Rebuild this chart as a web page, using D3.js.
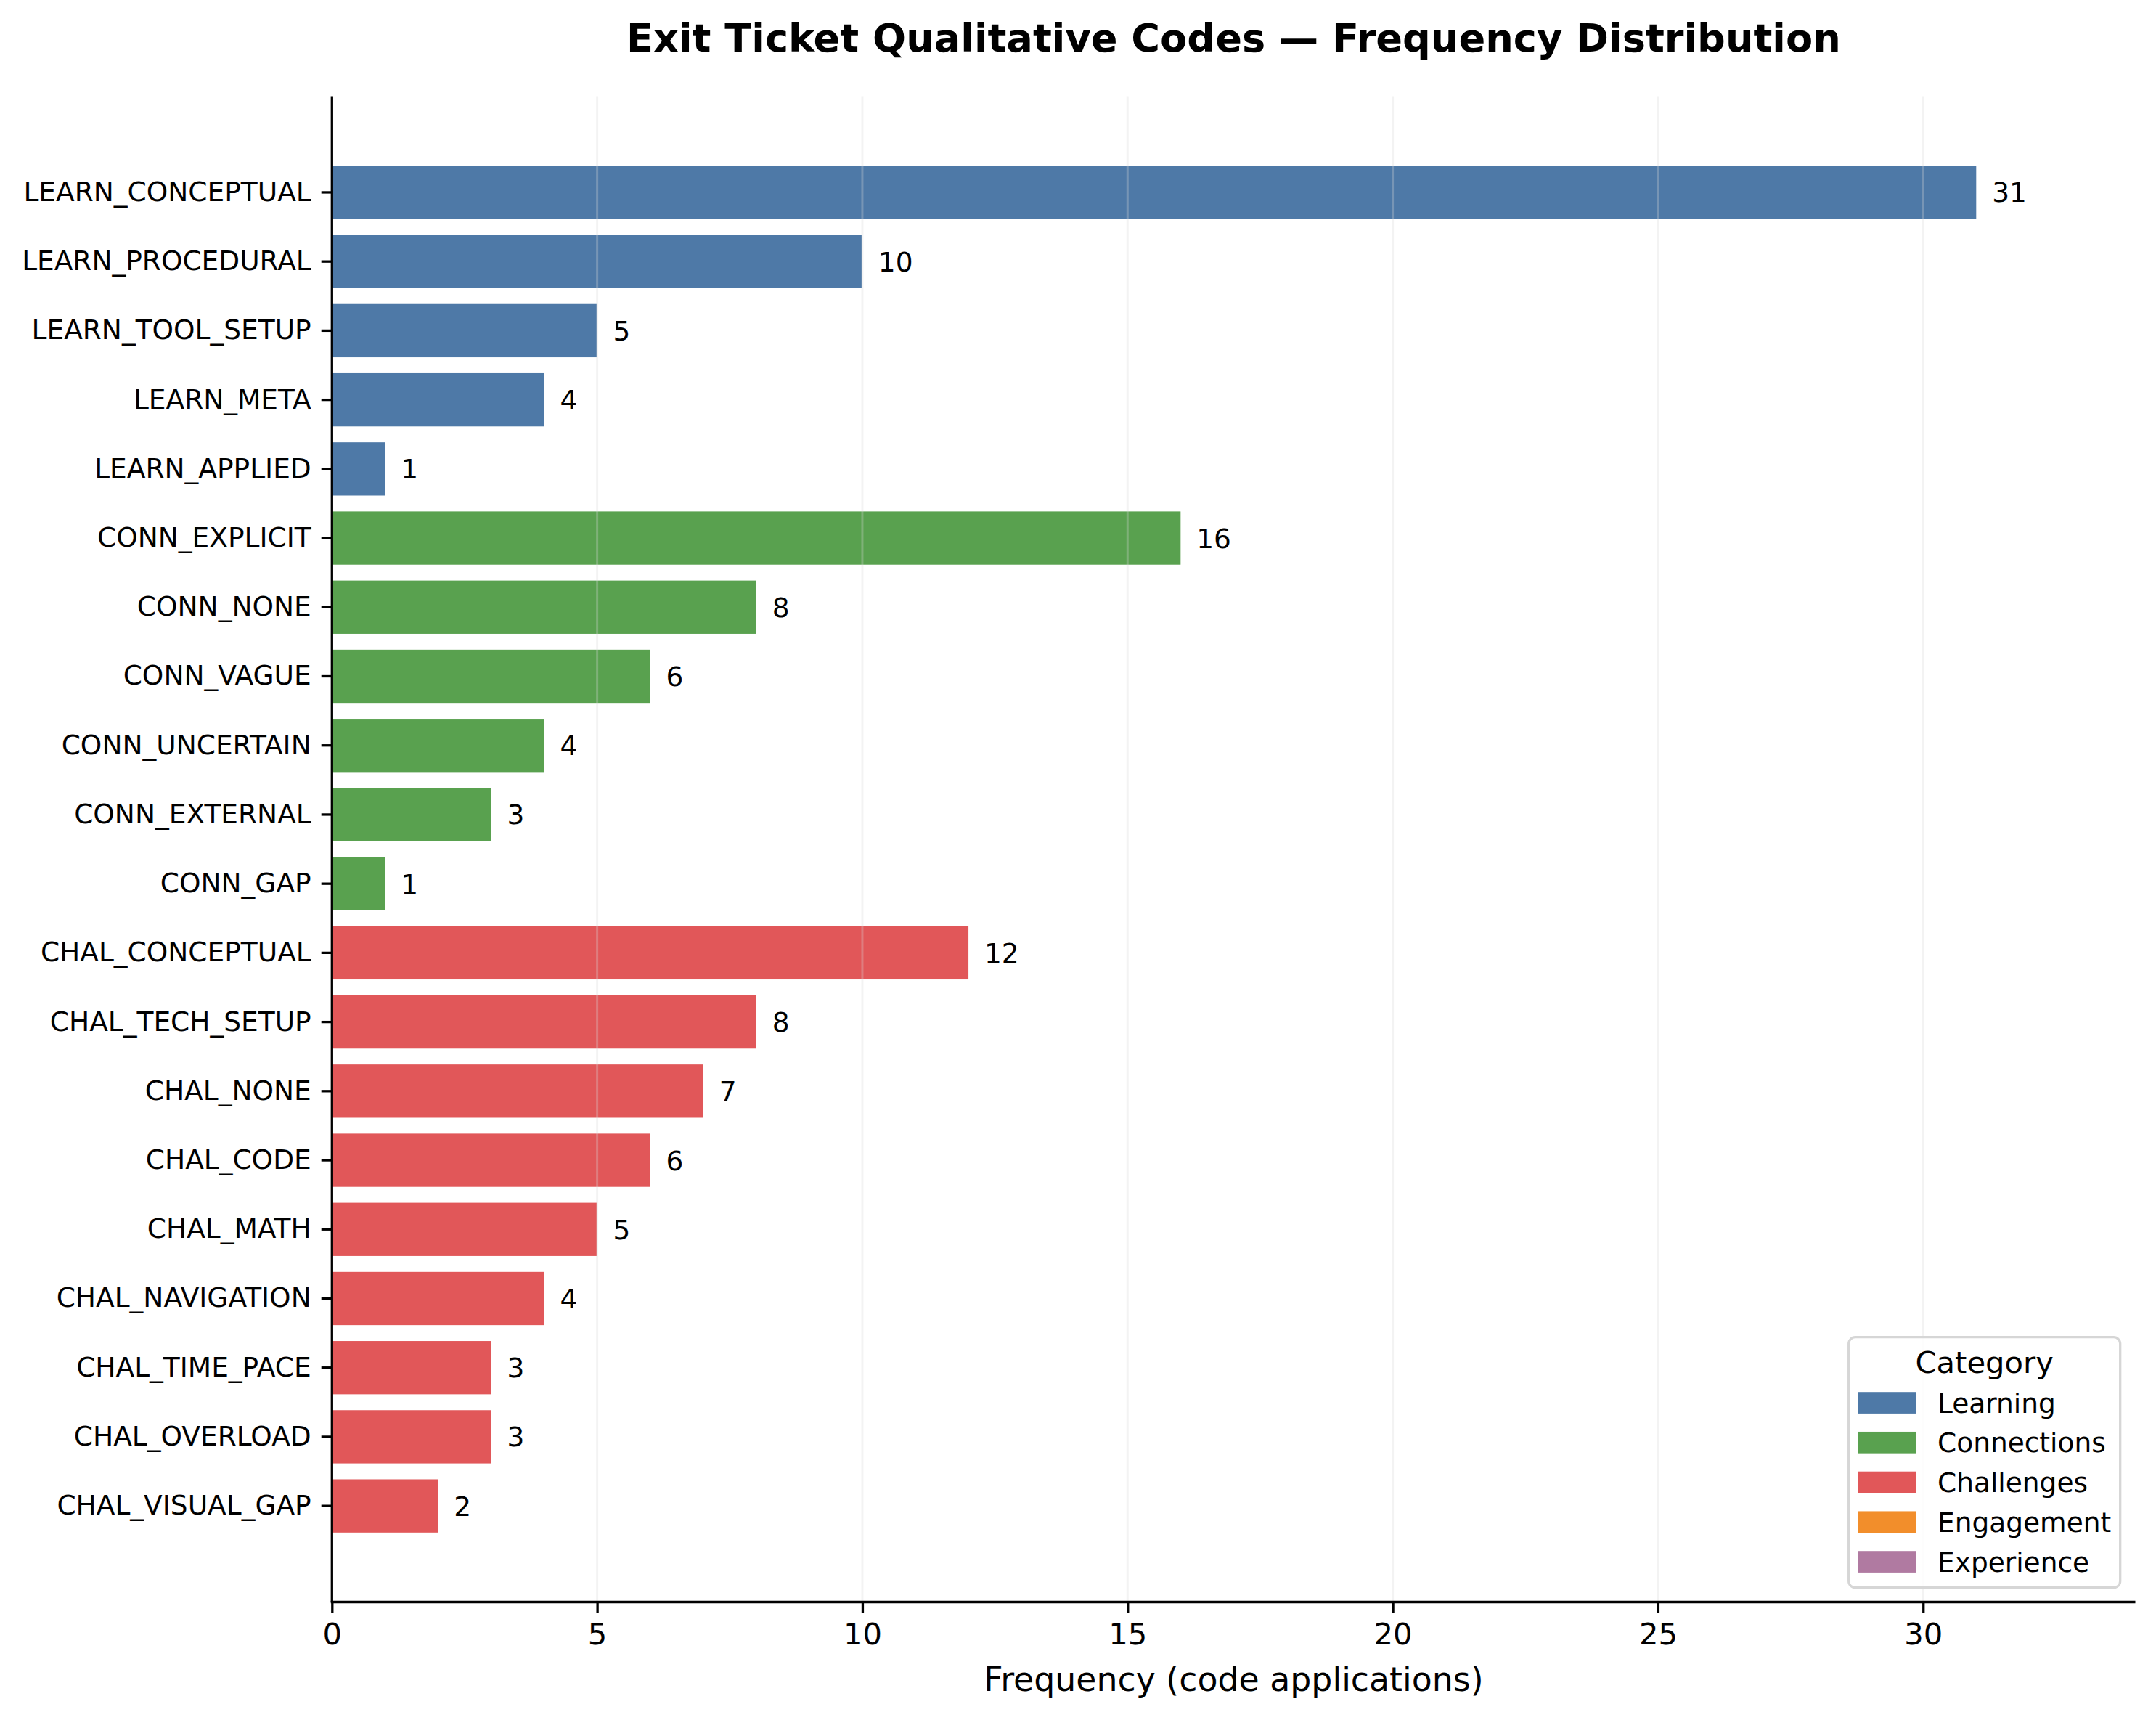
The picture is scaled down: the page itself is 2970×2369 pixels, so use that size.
<!DOCTYPE html>
<html>
<head>
<meta charset="utf-8">
<script src="https://cdn.jsdelivr.net/npm/d3@7"></script>
<style>
  html, body { margin: 0; padding: 0; background: #ffffff; }
  svg { display: block; }
  text { font-family: "DejaVu Sans", sans-serif; fill: #000; }
</style>
</head>
<body>
<script>
// ---- Data ----
const codes = [
  "LEARN_CONCEPTUAL", "LEARN_PROCEDURAL", "LEARN_TOOL_SETUP", "LEARN_META", "LEARN_APPLIED",
  "CONN_EXPLICIT", "CONN_NONE", "CONN_VAGUE", "CONN_UNCERTAIN", "CONN_EXTERNAL", "CONN_GAP",
  "CHAL_CONCEPTUAL", "CHAL_TECH_SETUP", "CHAL_NONE", "CHAL_CODE", "CHAL_MATH",
  "CHAL_NAVIGATION", "CHAL_TIME_PACE", "CHAL_OVERLOAD", "CHAL_VISUAL_GAP"
];
const frequencies = [31, 10, 5, 4, 1, 16, 8, 6, 4, 3, 1, 12, 8, 7, 6, 5, 4, 3, 3, 2];
const codeCategories = [
  "Learning", "Learning", "Learning", "Learning", "Learning",
  "Connections", "Connections", "Connections", "Connections", "Connections", "Connections",
  "Challenges", "Challenges", "Challenges", "Challenges", "Challenges",
  "Challenges", "Challenges", "Challenges", "Challenges"
];
const legendCategories = ["Learning", "Connections", "Challenges", "Engagement", "Experience"];
const categoryColors = ["#4e79a7", "#59a14f", "#e15759", "#f28e2b", "#b07aa1"];
const xTicks = [0, 5, 10, 15, 20, 25, 30];
const xMax = 34;
const titleText = "Exit Ticket Qualitative Codes \u2014 Frequency Distribution";
const xLabelText = "Frequency (code applications)";
const legendTitle = "Category";

(function () {
// ---- Layout ----
const W = 2970, H = 2369;
const pLeft = 457.3, pRight = 2941.5, pTop = 132.6, pBottom = 2206.5;

const svg = d3.select("body").append("svg")
  .attr("width", W).attr("height", H)
  .attr("viewBox", `0 0 ${W} ${H}`);
svg.append("rect").attr("width", W).attr("height", H).attr("fill", "#ffffff");

const x = d3.scaleLinear().domain([0, xMax]).range([pLeft, pRight]);
const y = d3.scaleBand().domain(codes).range([pTop, pBottom])
  .paddingInner(0.23).paddingOuter(1.005);
const color = d3.scaleOrdinal().domain(legendCategories).range(categoryColors);

const rows = codes.map((c, i) => ({ code: c, value: frequencies[i], cat: codeCategories[i] }));

// Bars
svg.append("g").selectAll("rect").data(rows).join("rect")
  .attr("x", x(0))
  .attr("y", d => y(d.code))
  .attr("width", d => x(d.value) - x(0))
  .attr("height", y.bandwidth())
  .attr("fill", d => color(d.cat));

// Grid (above bars, like matplotlib)
svg.append("g").selectAll("line").data(xTicks.filter(t => t > 0)).join("line")
  .attr("x1", d => x(d)).attr("x2", d => x(d))
  .attr("y1", pTop).attr("y2", pBottom)
  .attr("stroke", "#d8d8d8").attr("stroke-opacity", 0.3).attr("stroke-width", 3);

// Value labels
svg.append("g").selectAll("text").data(rows).join("text")
  .attr("x", d => x(d.value + 0.3))
  .attr("y", d => y(d.code) + y.bandwidth() / 2)
  .attr("dy", "0.36em")
  .style("font-size", "37.5px")
  .text(d => d.value);

// X axis
const xAxis = svg.append("g").attr("transform", `translate(0,${pBottom})`)
  .call(d3.axisBottom(x).tickValues(xTicks).tickFormat(d3.format("d")).tickSizeOuter(0).tickSize(14.6).tickPadding(14));
xAxis.select(".domain").attr("stroke", "#000").attr("stroke-width", 3.3)
  .attr("d", `M${pLeft - 1.6},0H${pRight}`);
xAxis.selectAll(".tick line").attr("stroke", "#000").attr("stroke-width", 3.3);
xAxis.selectAll(".tick text").style("font-size", "41.7px").style("font-family", "DejaVu Sans, sans-serif").attr("fill", "#000");

// Y axis
const yAxis = svg.append("g").attr("transform", `translate(${pLeft},0)`)
  .call(d3.axisLeft(y).tickSizeOuter(0).tickSize(14.6).tickPadding(14));
yAxis.select(".domain").attr("stroke", "#000").attr("stroke-width", 3.3)
  .attr("d", `M0,${pTop}V${pBottom}`);
yAxis.selectAll(".tick line").attr("stroke", "#000").attr("stroke-width", 3.3);
yAxis.selectAll(".tick text").style("font-size", "37.5px").style("font-family", "DejaVu Sans, sans-serif").attr("fill", "#000");

// Title
svg.append("text")
  .attr("x", (pLeft + pRight) / 2).attr("y", 71)
  .attr("text-anchor", "middle")
  .style("font-size", "54.2px").style("font-weight", "bold")
  .text(titleText);

// X label
svg.append("text")
  .attr("x", (pLeft + pRight) / 2).attr("y", 2329)
  .attr("text-anchor", "middle")
  .style("font-size", "45.8px")
  .text(xLabelText);

// Legend
const lg = svg.append("g");
const lx0 = 2546.7, ly0 = 1841.7, lw = 374, lh = 345;
lg.append("rect")
  .attr("x", lx0).attr("y", ly0).attr("width", lw).attr("height", lh)
  .attr("rx", 9).attr("ry", 9)
  .attr("fill", "#ffffff").attr("fill-opacity", 0.8)
  .attr("stroke", "#d6d6d6").attr("stroke-width", 3.3);
lg.append("text")
  .attr("x", lx0 + lw / 2).attr("y", 1890.7)
  .attr("text-anchor", "middle")
  .style("font-size", "41.7px")
  .text(legendTitle);
const rowY = d3.scalePoint().domain(legendCategories).range([1932, 2151]);
const items = lg.selectAll("g.item").data(legendCategories).join("g").attr("class", "item");
items.append("rect")
  .attr("x", 2560).attr("y", d => rowY(d) - 14.8)
  .attr("width", 79).attr("height", 29.7)
  .attr("fill", d => color(d));
items.append("text")
  .attr("x", 2669).attr("y", d => rowY(d))
  .attr("dy", "0.36em")
  .style("font-size", "37.5px")
  .text(d => d);
})();
</script>
</body>
</html>
